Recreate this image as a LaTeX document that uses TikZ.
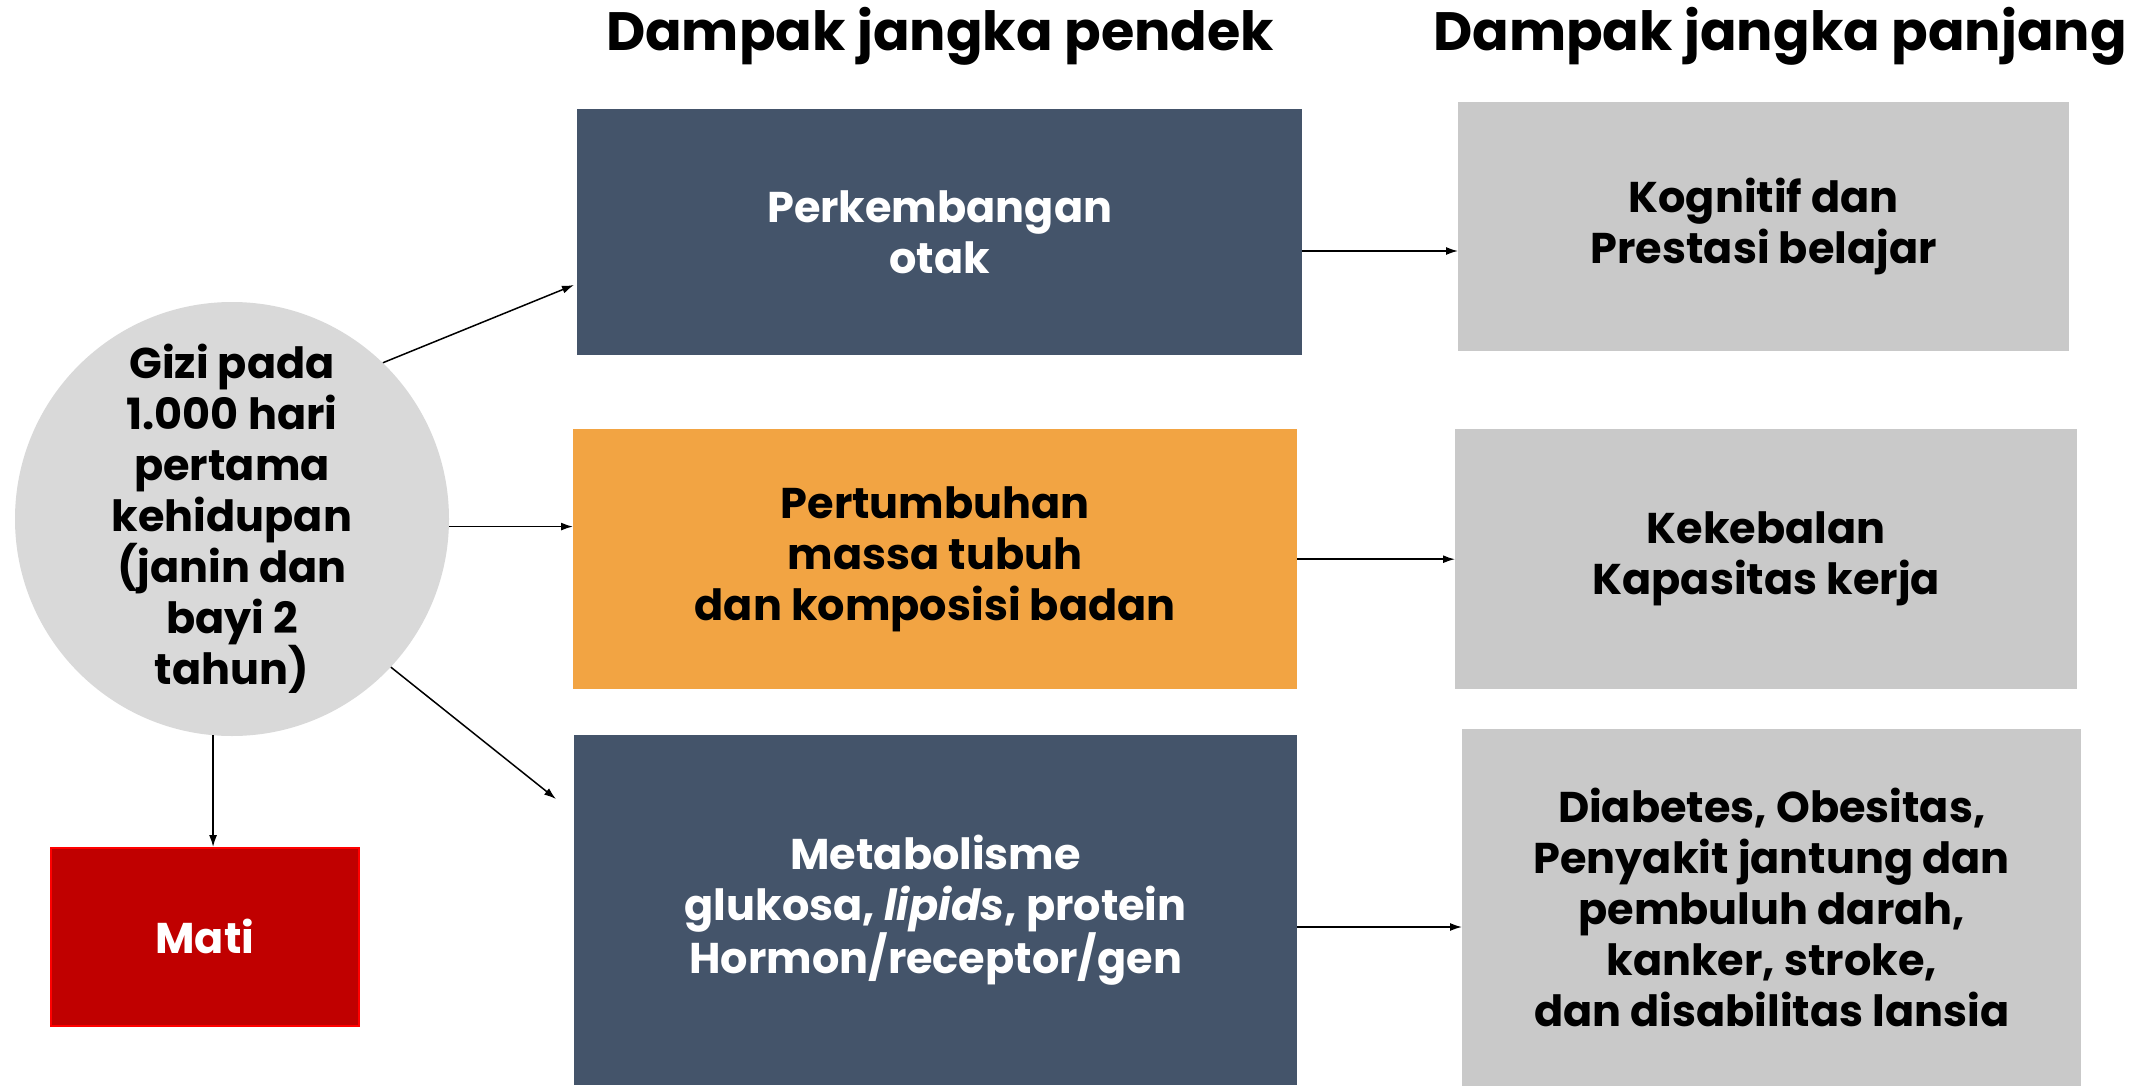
\documentclass[tikz,border=0pt]{standalone}
\usepackage{fontspec}
\setmainfont{Poppins}
\usetikzlibrary{arrows.meta,calc}
\definecolor{slate}{HTML}{44546A}
\definecolor{orng}{HTML}{F2A443}
\definecolor{lgray}{HTML}{C9C9C9}
\definecolor{cgray}{HTML}{D9D9D9}
\definecolor{dred}{HTML}{C00000}
\newcommand\bodyfnt{\bfseries\fontsize{43}{51}\selectfont}
\newcommand\titlefnt{\bfseries\fontsize{54}{60}\selectfont}
\begin{document}
\begin{tikzpicture}[x=1pt,y=-1pt,
  boxstyle/.style={rectangle, anchor=north west, inner sep=0pt, align=center, font=\bodyfnt},
  darkbox/.style={boxstyle, fill=slate, text=white},
  orangebox/.style={boxstyle, fill=orng, text=black},
  graybox/.style={boxstyle, fill=lgray, text=black},
  conn/.style={-{Latex[length=12pt,width=8pt]}, line width=1.5pt, black},
  titlestyle/.style={anchor=base, font=\titlefnt, inner sep=0pt}]
\useasboundingbox (0,0) rectangle (2143,1086);
\fill[white] (0,0) rectangle (2143,1086);

\node[titlestyle] (t1) at (940,51) {Dampak jangka pendek};
\node[titlestyle] (t2) at (1780,51) {Dampak jangka panjang};

\node[darkbox, minimum width=725pt, minimum height=246pt] (box1) at (577,109) {Perkembangan\\otak};
\node[orangebox, minimum width=724pt, minimum height=260pt] (box2) at (573,429) {Pertumbuhan\\massa tubuh\\dan komposisi badan};
\node[darkbox, minimum width=723pt, minimum height=350pt] (box3) at (574,735) {Metabolisme\\glukosa, \textit{lipids}, protein\\Hormon/receptor/gen};

\node[graybox, minimum width=611pt, minimum height=249pt] (r1) at (1458,102) {Kognitif dan\\Prestasi belajar};
\node[graybox, minimum width=622pt, minimum height=260pt] (r2) at (1455,429) {Kekebalan\\Kapasitas kerja};
\node[graybox, minimum width=619pt, minimum height=357pt] (r3) at (1462,729) {Diabetes, Obesitas,\\Penyakit jantung dan\\pembuluh darah,\\kanker, stroke,\\dan disabilitas lansia};

\node[circle, fill=cgray, minimum size=434pt, inner sep=0pt, align=center, font=\bodyfnt] (gizi) at (232,519)
  {Gizi pada\\1.000 hari\\pertama\\kehidupan\\(janin dan\\bayi 2\\tahun)};

\node[boxstyle, fill=dred, draw=red, line width=1.5pt, text=white, minimum width=308pt, minimum height=178pt] (mati) at (50,847) {Mati};

\coordinate (tip1) at (574,285);
\coordinate (tip3) at (556,799);
\coordinate (s1) at (1302,251);
\coordinate (s3) at (1297,927);

\draw[conn] (gizi.46) -- (tip1);
\draw[conn] (gizi.-2.4) -- (gizi.-2.4 -| box2.west);
\draw[conn] (gizi.-43) -- (tip3);
\draw[conn] (gizi.-95) -- (gizi.-95 |- mati.north);

\draw[conn] (s1) -- (s1 -| r1.west);
\draw[conn] (box2.east) -- (box2.east -| r2.west);
\draw[conn] (s3) -- (s3 -| r3.west);
\end{tikzpicture}
\end{document}
